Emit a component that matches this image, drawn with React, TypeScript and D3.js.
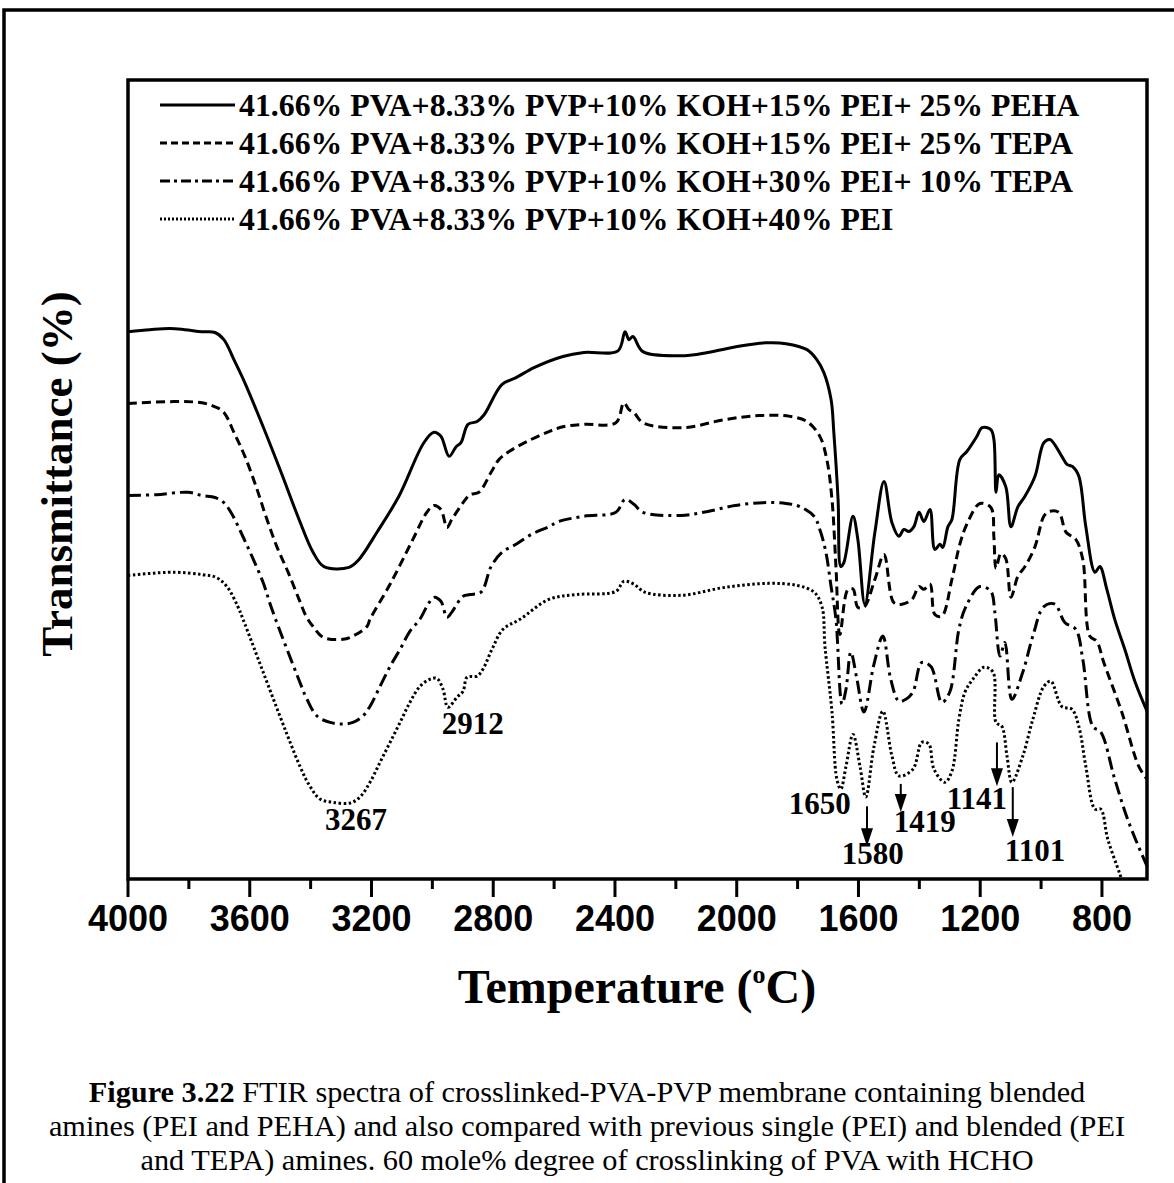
import React from 'react';
import * as d3 from 'd3';

const W = 1174;
const H = 1183;
const plot = { left: 128, top: 80, right: 1147, bottom: 879 };

const xTicks = [4000, 3600, 3200, 2800, 2400, 2000, 1600, 1200, 800];
const xMinorTicks = [3800, 3400, 3000, 2600, 2200, 1800, 1400, 1000];

const legendLabels = [
  '41.66% PVA+8.33% PVP+10% KOH+15% PEI+ 25% PEHA',
  '41.66% PVA+8.33% PVP+10% KOH+15% PEI+ 25% TEPA',
  '41.66% PVA+8.33% PVP+10% KOH+30% PEI+ 10% TEPA',
  '41.66% PVA+8.33% PVP+10% KOH+40% PEI',
];

// [wavenumber (cm-1), transmittance (a.u.)]
const pehaSeries: [number, number][] = [
  [4000, 68.5], [3928, 68.75], [3862, 68.9], [3813, 68.75], [3757, 68.5], [3714, 68.4], [3685, 67.5],
  [3652, 65], [3616, 62.1], [3556, 56.6], [3497, 50.9], [3438, 45], [3392, 40.9], [3356, 39.1],
  [3274, 39], [3241, 40], [3182, 43.4], [3110, 47.9], [3028, 54.6], [2995, 55.9], [2972, 55.4],
  [2945, 52.9], [2922, 54.1], [2906, 54.6], [2883, 56.9], [2853, 57.25], [2830, 58.1], [2771, 61.9],
  [2725, 62.75], [2666, 64], [2571, 65.4], [2502, 65.9], [2390, 66.1], [2367, 68.5], [2354, 67.5],
  [2341, 67.9], [2308, 66], [2173, 65.5], [2095, 65.9], [1983, 66.75], [1904, 67.1], [1838, 67],
  [1769, 66.25], [1737, 65], [1714, 63.4], [1690, 60], [1681, 55.9], [1667, 47.5], [1658, 39.1],
  [1648, 39.6], [1618, 45.4], [1602, 42.5], [1579, 34.4], [1546, 43.4], [1516, 49.75], [1490, 44.6],
  [1467, 42.9], [1451, 43.75], [1434, 43.5], [1418, 44.1], [1401, 45.9], [1385, 44.75], [1365, 46.25],
  [1349, 41.25], [1332, 41.9], [1323, 41.5], [1306, 44.1], [1293, 45], [1267, 52.5], [1244, 53.5],
  [1211, 55.4], [1194, 56.5], [1165, 56.25], [1155, 55], [1148, 48.4], [1139, 50.6], [1116, 49.1],
  [1099, 44.1], [1076, 46.6], [1053, 47.9], [1020, 50.4], [991, 54.6], [971, 55], [932, 52.9],
  [915, 51.9], [896, 51.6], [876, 50.4], [853, 44.1], [823, 38.4], [807, 39.1], [784, 36.25],
  [758, 32.5], [725, 28.75], [692, 24.75], [652, 21],
];

const tepa25Series: [number, number][] = [
  [4000, 59.5], [3849, 59.75], [3757, 59.6], [3714, 59.1], [3685, 58.4], [3652, 55.9], [3616, 52.9],
  [3579, 49.1], [3547, 45.4], [3511, 41.6], [3474, 38.4], [3438, 35], [3415, 32.9], [3392, 31.6],
  [3359, 30.25], [3294, 30], [3261, 30.4], [3215, 31.6], [3205, 32.5], [3136, 37.1], [3064, 42.5],
  [3018, 45.9], [2995, 46.75], [2972, 46.25], [2952, 44], [2936, 45], [2899, 47.1], [2876, 48.1],
  [2847, 48.4], [2807, 50.9], [2781, 52.5], [2748, 53.5], [2676, 55], [2617, 56], [2571, 56.6],
  [2502, 56.9], [2397, 57.1], [2371, 59.6], [2354, 58.75], [2338, 58.4], [2308, 57.1], [2173, 56.5],
  [2039, 57.5], [1927, 58], [1825, 57.9], [1769, 57.25], [1727, 55.4], [1704, 52.5], [1687, 47.5],
  [1674, 39.1], [1661, 30.6], [1635, 36.2], [1618, 36.3], [1602, 34], [1582, 34], [1546, 37.5],
  [1516, 40.6], [1484, 34.6], [1457, 34.4], [1424, 35], [1401, 36.6], [1385, 36.25], [1365, 36.9],
  [1349, 33.1], [1326, 32.9], [1293, 37.5], [1267, 41.9], [1244, 44.4], [1201, 47], [1165, 46.5],
  [1155, 42.75], [1148, 38.9], [1132, 40.75], [1116, 40.1], [1099, 35.25], [1076, 37.9], [1053, 39.1],
  [1020, 41.6], [991, 45.4], [974, 46], [942, 45.9], [918, 43.4], [886, 42.5], [863, 40], [840, 30.4],
  [817, 29.75], [794, 27.1], [735, 20.9], [679, 14.1], [652, 12.5],
];

const tepa10Series: [number, number][] = [
  [4000, 48], [3908, 48.1], [3803, 48.4], [3757, 48], [3714, 47.75], [3685, 47.1], [3662, 45.9],
  [3629, 43.4], [3593, 40.4], [3556, 37.1], [3527, 33.75], [3435, 24.6], [3412, 22.5], [3379, 20.4],
  [3336, 19.6], [3294, 19.4], [3261, 19.6], [3228, 20.4], [3205, 21.6], [3172, 24.1], [3139, 26.6],
  [3106, 28.75], [3074, 31], [3041, 32.5], [3018, 34.1], [2995, 35.25], [2972, 34.75], [2952, 32.75],
  [2936, 33.4], [2899, 35.4], [2876, 35.6], [2840, 35.9], [2807, 39.1], [2771, 40.9], [2725, 41.9],
  [2676, 43.1], [2617, 44.1], [2584, 44.75], [2502, 45.4], [2397, 45.9], [2367, 47.5], [2338, 46.9],
  [2308, 45.9], [2183, 45.5], [2095, 46], [2006, 46.75], [1914, 47.1], [1838, 47], [1792, 46.6],
  [1746, 45.4], [1727, 43.75], [1707, 40.9], [1690, 36.6], [1674, 32.5], [1654, 21.9], [1641, 23.75],
  [1625, 28.4], [1605, 25], [1582, 20.9], [1549, 26.9], [1520, 30.4], [1494, 25], [1467, 22.25],
  [1444, 22.5], [1421, 23.4], [1392, 27.1], [1362, 26.6], [1326, 22.1], [1300, 23.4], [1270, 31.25],
  [1247, 34.1], [1201, 36.6], [1165, 36], [1152, 33.4], [1135, 27.9], [1119, 29.6], [1096, 22.5],
  [1060, 25.9], [1027, 30.4], [991, 34.1], [955, 34.4], [922, 32.1], [886, 31.25], [863, 27.5],
  [830, 19.1], [804, 18.4], [758, 12.5], [712, 7.1], [652, 1.6],
];

const peiSeries: [number, number][] = [
  [4000, 38], [3849, 38.4], [3757, 38.1], [3711, 37.75], [3675, 36.6], [3639, 34.1], [3622, 32.5],
  [3435, 14.1], [3402, 11.6], [3369, 10], [3327, 9.6], [3271, 9.5], [3238, 10.25], [3205, 12.1],
  [3172, 14.6], [3139, 17.1], [3106, 19.6], [3074, 22.1], [3041, 24.1], [3008, 25], [2985, 25.1],
  [2965, 23.75], [2949, 21.5], [2919, 22.75], [2899, 23.5], [2886, 25.25], [2853, 25.4], [2834, 26.25],
  [2804, 28.75], [2768, 31.25], [2712, 32.5], [2617, 35], [2525, 35.6], [2397, 36], [2371, 37.25],
  [2338, 36.9], [2302, 35.9], [2183, 35.5], [2039, 36.5], [1894, 37], [1802, 36.75], [1746, 35.9],
  [1720, 34.1], [1710, 29.1], [1687, 20.9], [1671, 12.5], [1658, 11.25], [1641, 14.1], [1618, 18.1],
  [1595, 14.1], [1576, 10.25], [1549, 16.6], [1520, 21], [1490, 15.4], [1467, 12.9], [1421, 13.75],
  [1392, 17.1], [1369, 16.9], [1352, 13.75], [1316, 12.1], [1293, 13.5], [1270, 20], [1250, 23.4],
  [1224, 25], [1188, 26.5], [1158, 25.9], [1148, 19.6], [1129, 19.1], [1112, 15.4], [1096, 12.1],
  [1060, 15.4], [1027, 20], [991, 24.1], [968, 24.75], [932, 21.6], [899, 21.25], [876, 19.1],
  [853, 14.1], [823, 8.75], [804, 8.75], [781, 5], [741, 0.6], [725, -1.25],
];

const peakLabels = [
  { text: '3267', wn: 3251, t: 6.1 },
  { text: '2912', wn: 2867, t: 18.2 },
  { text: '1650', wn: 1727, t: 8.1 },
  { text: '1580', wn: 1553, t: 1.9 },
  { text: '1419', wn: 1382, t: 5.9 },
  { text: '1141', wn: 1211, t: 8.8 },
  { text: '1101', wn: 1020, t: 2.3 },
];

const arrows = [
  { wn: 1572, from: 9.1, to: 4.1 },
  { wn: 1461, from: 11.9, to: 8.4 },
  { wn: 1145, from: 17.1, to: 11.6 },
  { wn: 1093, from: 11.5, to: 5.25 },
];

const captionLines = [
  ['Figure 3.22', ' FTIR spectra of crosslinked-PVA-PVP membrane containing blended'],
  ['', 'amines (PEI and PEHA) and also compared with previous single (PEI) and blended (PEI'],
  ['', 'and TEPA) amines. 60 mole% degree of crosslinking of PVA with HCHO'],
];

const styles = [
  { dash: 'none', legendDash: 'none' },
  { dash: '9,5', legendDash: '7,4' },
  { dash: '13,5,3,5', legendDash: '10,4,3,4' },
  { dash: '2.5,2.5', legendDash: '2,2' },
];

const serif = '"Liberation Serif", "Times New Roman", serif';
const sans = '"Liberation Sans", Arial, sans-serif';

export default function App() {
  const x = d3.scaleLinear().domain([4000, 652]).range([plot.left, plot.right]);
  const y = d3.scaleLinear().domain([0, 100]).range([plot.bottom, plot.top]);
  const line = d3
    .line<[number, number]>()
    .x((d) => x(d[0]))
    .y((d) => y(d[1]))
    .curve(d3.curveCatmullRom.alpha(0.5));
  const all = [pehaSeries, tepa25Series, tepa10Series, peiSeries];
  const legendY = [105, 143, 181, 219];

  return (
    <div style={{ position: 'absolute', left: 0, top: 0 }}>
      <svg width={W} height={H} style={{ display: 'block', background: '#fff' }}>
        <defs>
          <clipPath id="plotclip">
            <rect x={plot.left} y={plot.top} width={plot.right - plot.left} height={plot.bottom - plot.top} />
          </clipPath>
        </defs>
        <rect x={4} y={10} width={1300} height={1300} fill="none" stroke="#000" strokeWidth={3.5} />

        <g clipPath="url(#plotclip)">
          {all.map((s, i) => (
            <path
              key={i}
              d={line(s) || ''}
              fill="none"
              stroke="#000"
              strokeWidth={3}
              strokeDasharray={styles[i].dash}
              strokeLinejoin="round"
            />
          ))}
        </g>

        <rect
          x={plot.left}
          y={plot.top}
          width={plot.right - plot.left}
          height={plot.bottom - plot.top}
          fill="none"
          stroke="#000"
          strokeWidth={3.5}
        />

        {xTicks.map((t) => (
          <g key={t}>
            <line x1={x(t)} x2={x(t)} y1={plot.bottom} y2={plot.bottom + 18} stroke="#000" strokeWidth={3} />
            <text x={x(t)} y={931} textAnchor="middle" fontFamily={sans} fontWeight="bold" fontSize={36}>
              {t}
            </text>
          </g>
        ))}
        {xMinorTicks.map((t) => (
          <line key={t} x1={x(t)} x2={x(t)} y1={plot.bottom} y2={plot.bottom + 10} stroke="#000" strokeWidth={3} />
        ))}

        {legendLabels.map((lab, i) => (
          <g key={lab}>
            <line
              x1={160}
              x2={235}
              y1={legendY[i]}
              y2={legendY[i]}
              stroke="#000"
              strokeWidth={3}
              strokeDasharray={styles[i].legendDash}
            />
            <text x={239} y={legendY[i] + 11} fontFamily={serif} fontWeight="bold" fontSize={31.8}>
              {lab}
            </text>
          </g>
        ))}

        {peakLabels.map((p) => (
          <text
            key={p.text}
            x={x(p.wn)}
            y={y(p.t)}
            textAnchor="middle"
            fontFamily={serif}
            fontWeight="bold"
            fontSize={31}
          >
            {p.text}
          </text>
        ))}
        {arrows.map((a, i) => {
          const ax = x(a.wn);
          const y1 = y(a.from);
          const y2 = y(a.to);
          return (
            <g key={i}>
              <line x1={ax} x2={ax} y1={y1} y2={y2 - 16} stroke="#000" strokeWidth={2} />
              <path d={`M${ax - 6},${y2 - 18} L${ax + 6},${y2 - 18} L${ax},${y2} Z`} fill="#000" />
            </g>
          );
        })}

        <text
          transform="translate(72,474) rotate(-90)"
          textAnchor="middle"
          fontFamily={serif}
          fontWeight="bold"
          fontSize={45}
        >
          Transmittance (%)
        </text>
        <text x={637} y={1003} textAnchor="middle" fontFamily={serif} fontWeight="bold" fontSize={48}>
          <tspan>Temperature (</tspan>
          <tspan dy={-20} fontSize={26}>o</tspan>
          <tspan dy={20}>C)</tspan>
        </text>

        <g fontFamily={serif} fontSize={30.3} textAnchor="middle">
          {captionLines.map((ln, i) => (
            <text key={i} x={587} y={1102 + i * 34}>
              {ln[0] ? <tspan fontWeight="bold">{ln[0]}</tspan> : null}
              <tspan>{ln[1]}</tspan>
            </text>
          ))}
        </g>
      </svg>
    </div>
  );
}
